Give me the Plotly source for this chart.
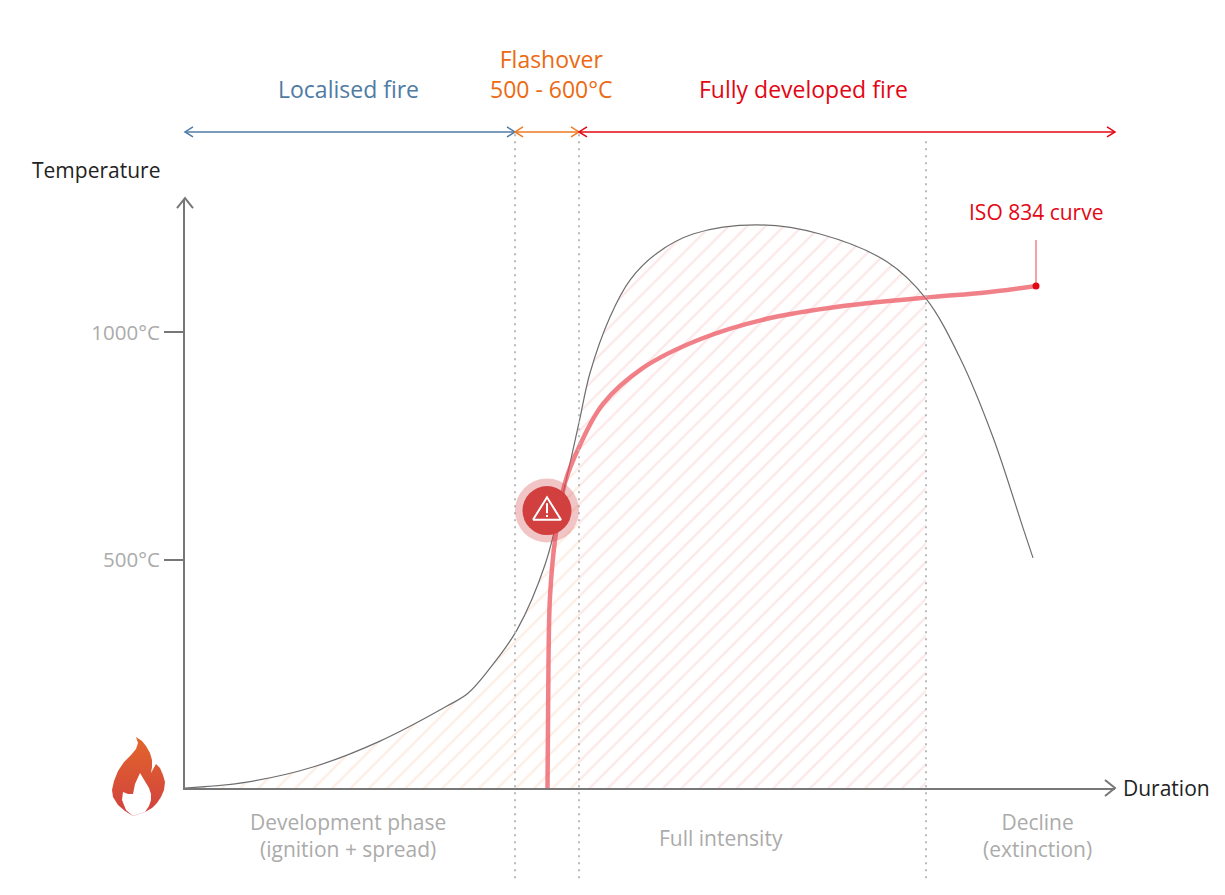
import numpy as np
import plotly.graph_objects as go

# duration is in arbitrary units, the reference has no numbers on that axis
fire_x = [0, 62, 128, 195, 262, 283, 305, 332, 360, 380, 394, 405, 425, 445, 472, 508, 572, 635, 702, 741, 775, 808, 838, 848]
fire_y = [0, 13, 46, 103, 180, 208, 263, 347, 490, 665, 802, 911, 1034, 1115, 1174, 1216, 1236, 1216, 1155, 1074, 944, 770, 571, 505]

iso_x = [362.5, 363.5, 365, 370, 380, 395, 418, 458, 515, 582, 658, 748, 798, 851]
iso_y = [0, 280, 420, 544, 670, 753, 843, 922, 985, 1030, 1058, 1078, 1087, 1102]

flashover_start = 330
flashover_end = 394
decline_start = 741
x_max = 930
alert_x = 362
alert_y = 609

temp_ticks = [500, 1000]
temp_labels = ["500°C", "1000°C"]

label_text = ["Localised fire", "Flashover<br>500 - 600°C", "Fully developed fire", "Temperature", "Duration",
              "ISO 834 curve", "Development phase<br>(ignition + spread)", "Full intensity", "Decline<br>(extinction)"]
label_x = [163, 366, 618, -89, 981, 851, 163, 536, 852]
label_y = [1534, 1567, 1534, 1357, 0, 1264, -105, -110, -105]
label_size = [23, 23, 23, 21, 21, 21, 21, 21, 21]
label_color = ["#4F7BA5", "#EC6A12", "#E30613", "#222222", "#222222", "#E30613", "#ABABAB", "#ABABAB", "#ABABAB"]

AXIS = "#777777"
BLUE = "#4F7BA5"
ORANGE = "#EC7A25"
RED = "#E30613"
px_y = 2.195  # degrees per pixel

# the page has a body margin of 8px, so the figure is a bit smaller than the window
FIG_W = 1209
FIG_H = 879
PLOT_L = 177
PLOT_T = 192
PLOT_H = 588

# flame icon outline, in pixels of the page
flame_px = [(136, 737), (142, 741), (146, 746), (150, 753), (152, 760), (152, 767), (151, 773), (156, 764),
            (160, 768), (163, 775), (165, 782), (164, 790), (161, 797), (157, 803), (152, 808), (145, 812),
            (133, 816), (125, 811), (118, 805), (113, 797), (112, 790), (114, 781), (118, 771), (124, 762),
            (131, 755), (136, 749), (138, 743)]
flame_inner_px = [(140, 773), (145, 782), (149, 788), (151, 794), (151, 800), (149, 806), (145, 812), (133, 816),
                  (126, 810), (122, 800), (123, 792), (128, 794), (133, 794), (135, 784)]

fire_x = np.array(fire_x)
fire_y = np.array(fire_y)

fig = go.Figure()


def add_line(x, y, color, width, dash=None):
    # everything that leaves the axes area goes on the full page overlay x2/y2
    fig.add_trace(go.Scatter(x=x, y=y, mode="lines", xaxis="x2", yaxis="y2", hoverinfo="skip",
                             line=dict(color=color, width=width, dash=dash)))


def add_head(x, y, direction, color, width=1.5, length=8, half=5):
    # open chevron, length and half are in pixels
    if direction in ("left", "right"):
        sign = 1 if direction == "left" else -1
        add_line([x + sign * length, x, x + sign * length], [y + half * px_y, y, y - half * px_y], color, width)
    else:
        add_line([x - half, x, x + half], [y - length * px_y, y, y - length * px_y], color, width)


def add_flame(points, **kwargs):
    xs = [p[0] - 185 for p in points]
    ys = [(788 - p[1]) * px_y for p in points]
    fig.add_trace(go.Scatter(x=xs, y=ys, mode="lines", fill="toself", xaxis="x2", yaxis="y2", hoverinfo="skip",
                             line=dict(width=0), **kwargs))


# hatched areas below the fire curve
early = fire_x <= flashover_end
full = (fire_x >= flashover_end) & (fire_x <= decline_start)
fig.add_trace(go.Scatter(x=fire_x[early], y=fire_y[early], mode="lines", fill="tozeroy", hoverinfo="skip",
                         line=dict(width=0, shape="spline", smoothing=1.0), fillcolor="rgba(0,0,0,0)",
                         fillpattern=dict(shape="/", size=13, solidity=0.18, fgcolor="#FBDDCB", bgcolor="white")))
fig.add_trace(go.Scatter(x=fire_x[full], y=fire_y[full], mode="lines", fill="tozeroy", hoverinfo="skip",
                         line=dict(width=0, shape="spline", smoothing=1.0), fillcolor="rgba(0,0,0,0)",
                         fillpattern=dict(shape="/", size=13, solidity=0.18, fgcolor="#F9D2D2", bgcolor="white")))

# curves
fig.add_trace(go.Scatter(x=fire_x, y=fire_y, mode="lines", hoverinfo="skip", cliponaxis=False,
                         line=dict(color="#6E6E6E", width=1.2, shape="spline", smoothing=1.0)))
fig.add_trace(go.Scatter(x=iso_x, y=iso_y, mode="lines", hoverinfo="skip", cliponaxis=False,
                         line=dict(color="rgba(236,80,92,0.72)", width=4.5, shape="spline", smoothing=1.0)))

# dotted phase limits
add_line([flashover_start, flashover_start], [-198, 1440], "#BBBBBB", 2, "2px,5px")
add_line([flashover_end, flashover_end], [-198, 1440], "#BBBBBB", 2, "2px,5px")
add_line([decline_start, decline_start], [-198, 1422], "#BBBBBB", 2, "2px,5px")

# phase arrows on top
arrow_y = 1440
add_line([0, flashover_start], [arrow_y, arrow_y], BLUE, 1.5)
add_head(0, arrow_y, "left", BLUE)
add_head(flashover_start, arrow_y, "right", BLUE)
add_line([flashover_start, flashover_end], [arrow_y, arrow_y], ORANGE, 1.5)
add_head(flashover_start, arrow_y, "left", ORANGE)
add_head(flashover_end, arrow_y, "right", ORANGE)
add_line([flashover_end, x_max], [arrow_y, arrow_y], RED, 1.5)
add_head(flashover_end, arrow_y, "left", RED)
add_head(x_max, arrow_y, "right", RED)

# iso callout
add_line([iso_x[-1], iso_x[-1]], [iso_y[-1], 1203], "#F0808A", 1.5)
fig.add_trace(go.Scatter(x=[iso_x[-1]], y=[iso_y[-1]], mode="markers", xaxis="x2", yaxis="y2", hoverinfo="skip",
                         marker=dict(color=RED, size=7)))

# flashover warning badge
fig.add_trace(go.Scatter(x=[alert_x], y=[alert_y], mode="markers", xaxis="x2", yaxis="y2", hoverinfo="skip",
                         marker=dict(color="rgba(209,64,64,0.3)", size=64, line=dict(width=0))))
fig.add_trace(go.Scatter(x=[alert_x], y=[alert_y], mode="markers", xaxis="x2", yaxis="y2", hoverinfo="skip",
                         marker=dict(color="#D13F3F", size=49, line=dict(width=0))))
add_line([alert_x - 14, alert_x + 14, alert_x, alert_x - 14],
         [alert_y - 20, alert_y - 20, alert_y + 29, alert_y - 20], "white", 2)
add_line([alert_x, alert_x], [alert_y - 6, alert_y + 16], "white", 2)
add_line([alert_x, alert_x], [alert_y - 14, alert_y - 10], "white", 2)

# axis arrow heads
add_head(x_max, 0, "right", AXIS, width=2, length=10, half=8)
add_head(0, 588 * px_y + 4, "up", AXIS, width=2, length=10, half=8)

# flame icon
add_flame(flame_px, fillgradient=dict(type="vertical", colorscale=[[0, "#D14040"], [1, "#E2662A"]]))
add_flame(flame_inner_px, fillcolor="white")

for text, x, y, size, color in zip(label_text, label_x, label_y, label_size, label_color):
    fig.add_annotation(x=x, y=y, xref="x2", yref="y2", text=text, showarrow=False, xanchor="center", yanchor="middle",
                       font=dict(color=color, size=size))

fig.update_layout(
    width=FIG_W,
    height=FIG_H,
    margin=dict(l=0, r=0, t=0, b=0),
    paper_bgcolor="white",
    plot_bgcolor="rgba(0,0,0,0)",
    showlegend=False,
    font=dict(family="Open Sans", size=21),
    xaxis=dict(domain=[PLOT_L / FIG_W, (PLOT_L + x_max) / FIG_W], range=[0, x_max], showgrid=False, zeroline=False,
               showticklabels=False, ticks="", showline=True, linecolor=AXIS, linewidth=2),
    yaxis=dict(domain=[(FIG_H - PLOT_T - PLOT_H) / FIG_H, (FIG_H - PLOT_T) / FIG_H], range=[0, PLOT_H * px_y],
               showgrid=False, zeroline=False, tickmode="array", tickvals=temp_ticks, ticktext=temp_labels,
               ticks="outside", ticklen=19, tickwidth=2, tickcolor=AXIS, tickfont=dict(color="#ABABAB", size=20.5),
               showline=True, linecolor=AXIS, linewidth=2),
    xaxis2=dict(domain=[0, 1], range=[-PLOT_L, FIG_W - PLOT_L], anchor="y2", visible=False),
    yaxis2=dict(domain=[0, 1], range=[-(FIG_H - PLOT_T - PLOT_H) * px_y, (PLOT_T + PLOT_H) * px_y], anchor="x2", visible=False),
)

fig.write_html("out.html")
